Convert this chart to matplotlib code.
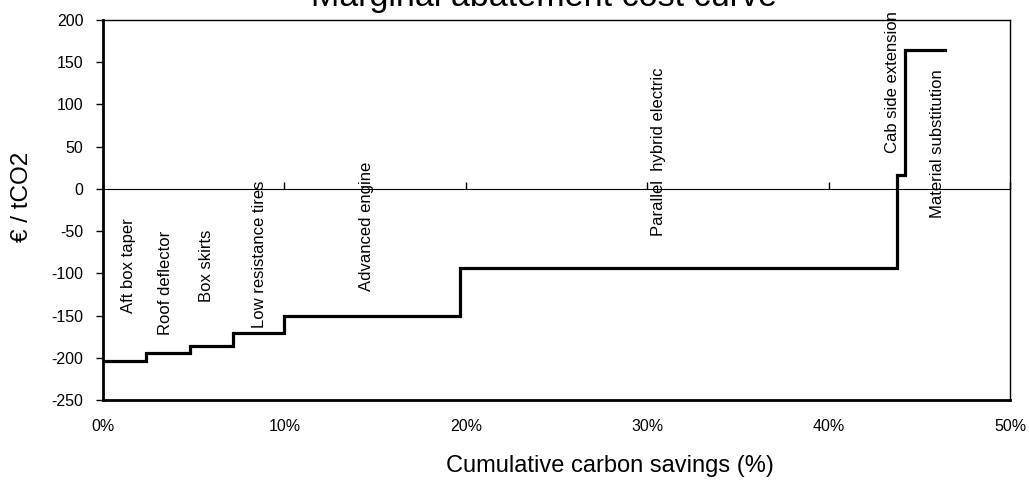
import matplotlib
matplotlib.use("Agg")
import matplotlib.pyplot as plt
from matplotlib.ticker import PercentFormatter, MultipleLocator, NullFormatter

plt.rcParams['font.family'] = ['Liberation Sans', 'DejaVu Sans']
plt.rcParams['axes.unicode_minus'] = False

measures = ["Aft box taper", "Roof deflector", "Box skirts", "Low resistance tires",
            "Advanced engine", "Parallel  hybrid electric", "Cab side extension",
            "Material substitution"]
cum_savings = [0, 2.35, 4.8, 7.18, 10.0, 19.68, 43.75, 44.2, 46.4]   # % (edges)
cost = [-204, -194, -186, -171, -150, -94, 17, 165]                  # EUR / tCO2
label_x = [1.42, 3.42, 5.73, 8.65, 14.5, 30.6, 43.55, 45.98]
label_y = [-91, -111, -91, -78, -44, 44, 126, 54]

W, H = 1029, 482
fig = plt.figure(figsize=(W / 100, H / 100), dpi=100)
ax = fig.add_axes([103 / W, 82 / H, 907 / W, 380 / H])

ax.step(cum_savings, cost + [cost[-1]], where='post', color='black', lw=2.3,
        solid_joinstyle='miter')

for name, x, y in zip(measures, label_x, label_y):
    ax.text(x, y, name, rotation=90, ha='center', va='center', fontsize=12)

ax.set_xlim(0, 50)
ax.set_ylim(-250, 200)
ax.xaxis.set_major_locator(MultipleLocator(10))
ax.xaxis.set_major_formatter(PercentFormatter(xmax=100, decimals=0))
ax.yaxis.set_major_locator(MultipleLocator(50))
ax.tick_params(axis='x', length=0, pad=14, labelsize=11.5)
ax.tick_params(axis='y', length=5, width=1, direction='out', pad=9, labelsize=11.5)

for s in ['left', 'bottom']:
    ax.spines[s].set_linewidth(2)
for s in ['top', 'right']:
    ax.spines[s].set_linewidth(1)

sec = ax.secondary_xaxis(250 / 450)
sec.xaxis.set_major_locator(MultipleLocator(10))
sec.xaxis.set_major_formatter(NullFormatter())
sec.tick_params(axis='x', length=5, width=1, direction='out')
sec.spines['bottom'].set_linewidth(1)

fig.text(610 / W, 1 - 472 / H, "Cumulative carbon savings (%)", ha='center',
         va='baseline', fontsize=17)
fig.text(22 / W, 1 - 197 / H, "€ / tCO2", rotation=90, ha='center', va='center',
         fontsize=17.5)
fig.text(544 / W, 1 - 6 / H, "Marginal abatement cost curve", ha='center',
         va='baseline', fontsize=24.5)

fig.savefig("out.png", dpi=100)
